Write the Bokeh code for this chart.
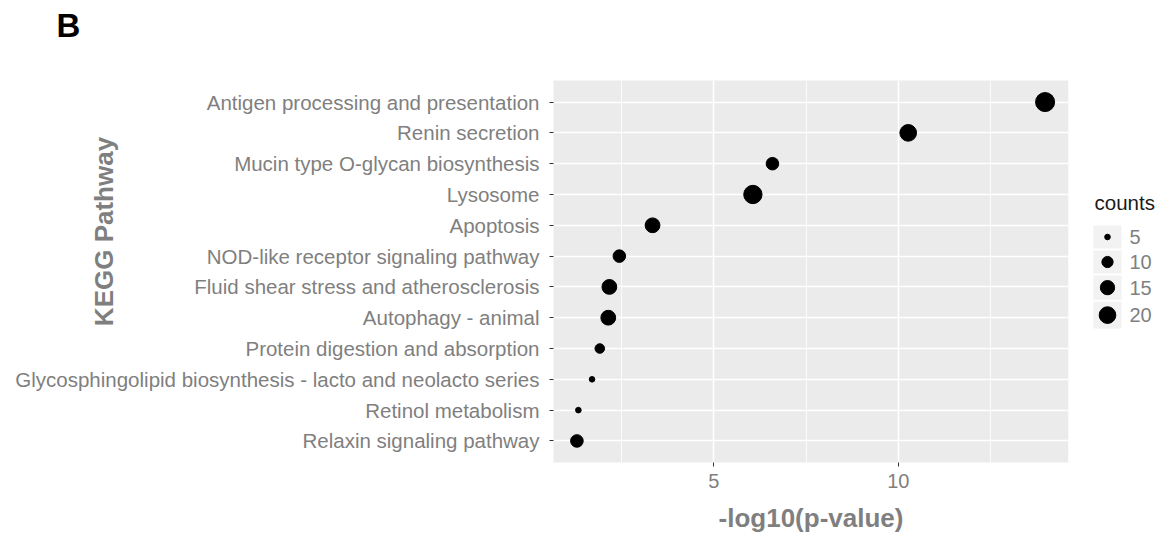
import numpy as np
from bokeh.plotting import figure
from bokeh.models import FactorRange, Range1d, FixedTicker, Label, ColumnDataSource
from bokeh.layouts import row
from bokeh.core.properties import value
from bokeh.embed import file_html
from bokeh.resources import INLINE

# ---------------- data ----------------
pathways = [
    "Antigen processing and presentation",
    "Renin secretion",
    "Mucin type O-glycan biosynthesis",
    "Lysosome",
    "Apoptosis",
    "NOD-like receptor signaling pathway",
    "Fluid shear stress and atherosclerosis",
    "Autophagy - animal",
    "Protein digestion and absorption",
    "Glycosphingolipid biosynthesis - lacto and neolacto series",
    "Retinol metabolism",
    "Relaxin signaling pathway",
]
neglog_p = [13.98, 10.27, 6.59, 6.06, 3.34, 2.44, 2.17, 2.14, 1.91, 1.70, 1.33, 1.29]
counts = [26, 20, 12, 24, 16, 12, 16, 16, 8, 5, 5, 12]
legend_counts = [5, 10, 15, 20]
x_ticks = [5, 10]
x_minor = [2.5, 7.5, 12.5]

FONT = "Liberation Sans"
GRAY = "#7f7f7f"
H = 537
TOP, BOTTOM = 80, 75
RB = 40          # right border of the main figure
LEG_X0 = 1068    # canvas x where the legend panel starts (overlaps the right border)


def size_of(c):
    c = np.asarray(c, dtype=float)
    return 3.18 * (1 + 5 * np.sqrt((c - 4.5) / 21.5))


xmin, xmax = min(neglog_p), max(neglog_p)
pad = 0.05 * (xmax - xmin)

src = ColumnDataSource(dict(path=pathways, x=neglog_p, counts=counts, size=size_of(counts)))

p = figure(
    frame_width=515, frame_height=H - TOP - BOTTOM,
    x_range=Range1d(xmin - pad, xmax + pad),
    y_range=FactorRange(factors=pathways[::-1], range_padding=0.2, range_padding_units="absolute"),
    output_backend="svg", toolbar_location=None,
    min_border_left=553, min_border_right=RB, min_border_top=TOP, min_border_bottom=BOTTOM,
    background_fill_color="#ebebeb", border_fill_color="white",
)
p.outline_line_color = None

p.scatter("x", "path", size="size", source=src, fill_color="black", line_color="black")

# x axis
p.xaxis.ticker = FixedTicker(ticks=x_ticks, minor_ticks=x_minor)
p.xaxis.axis_label = "-log10(p-value)"
p.xaxis.axis_label_text_font = FONT
p.xaxis.axis_label_text_font_style = "bold"
p.xaxis.axis_label_text_font_size = "26px"
p.xaxis.axis_label_text_color = GRAY
p.xaxis.axis_label_standoff = 12
p.xaxis.major_label_text_font = FONT
p.xaxis.major_label_text_font_size = "20px"
p.xaxis.major_label_text_color = GRAY
p.xaxis.major_label_standoff = 7

for ax in (p.xaxis, p.yaxis):
    ax.axis_line_color = None
    ax.major_tick_line_color = "#333333"
    ax.major_tick_out = 4
    ax.major_tick_in = 0
    ax.minor_tick_line_color = None

p.yaxis.major_label_text_font = FONT
p.yaxis.major_label_text_font_size = "20.5px"
p.yaxis.major_label_text_color = GRAY
p.yaxis.major_label_standoff = 10

p.xgrid.grid_line_color = "white"
p.xgrid.grid_line_width = 1.6
p.xgrid.minor_grid_line_color = "white"
p.xgrid.minor_grid_line_width = 0.8
p.ygrid.grid_line_color = "white"
p.ygrid.grid_line_width = 1.6

# texts in side panels (canvas coordinates, so they are not clipped to the frame)
p.add_layout(Label(x=103, y=231, x_units="canvas", y_units="canvas", text="KEGG Pathway",
                   angle=np.pi / 2, text_align="center", text_baseline="middle",
                   text_font=FONT, text_font_style="bold", text_font_size="26px",
                   text_color=GRAY), "right")
p.add_layout(Label(x=56, y=6, x_units="canvas", y_units="canvas", text="B",
                   text_align="left", text_baseline="top",
                   text_font=FONT, text_font_style="bold", text_font_size="33px",
                   text_color="black"), "above")

# ---------------- legend panel ----------------
leg_d = size_of(legend_counts)
key_h = [max(25.0, d + 12) for d in leg_d]
centers = []
top = 224.0
for h in key_h:
    centers.append(top + h / 2)
    top += h

LW = 1170 - LEG_X0
# the row aligns this panel's frame with the main frame (TOP .. H-BOTTOM),
# so map that span so that data y equals page y
lg = figure(width=LW, height=H, x_range=Range1d(LEG_X0, 1170), y_range=Range1d(H - BOTTOM, TOP),
            x_axis_type=None, y_axis_type=None, output_backend="svg", toolbar_location=None,
            min_border=0, min_border_top=TOP, min_border_bottom=BOTTOM,
            background_fill_color="white", border_fill_color="white")
lg.outline_line_color = None
lg.grid.visible = False
lg.margin = (0, 0, 0, -RB)

lsrc = ColumnDataSource(dict(y=centers, h=[k - 2 for k in key_h], size=leg_d,
                             label=[str(c) for c in legend_counts]))
lg.rect(x=1107, y="y", width=28, height="h", source=lsrc, fill_color="#f2f2f2", line_color=None)
lg.scatter(x=1107, y="y", size="size", source=lsrc, fill_color="black", line_color="black")
lg.text(x=1129, y="y", text="label", source=lsrc, text_font=value(FONT), text_font_size="20px",
        text_color=GRAY, text_baseline="middle", text_align="left")
lg.text(x=[1094], y=[202], text=["counts"], text_font=value(FONT), text_font_size="20.5px",
        text_color="#1a1a1a", text_baseline="middle", text_align="left")

layout = row(p, lg)
open("out.html", "w").write(file_html(layout, INLINE))
